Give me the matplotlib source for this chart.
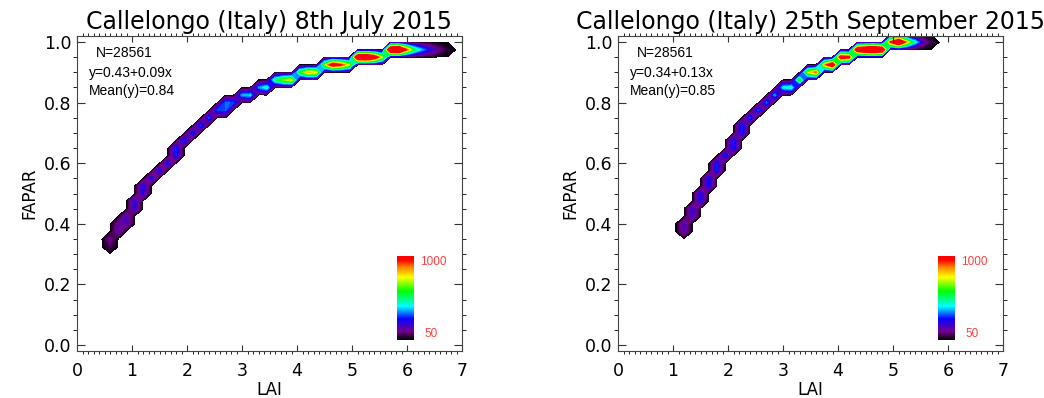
import numpy as np
import matplotlib
matplotlib.use("Agg")
import matplotlib.pyplot as plt
from matplotlib.colors import LinearSegmentedColormap, Normalize
from matplotlib.cm import ScalarMappable

plt.rcParams['font.family'] = ['DejaVu Sans']

# 2D histogram cells: LAI, FAPAR, count
jul_lai = [0.55, 0.60, 0.75, 0.75, 0.90, 0.90, 1.05, 1.05, 1.20, 1.20, 1.35, 1.50, 1.65,
           1.80, 1.80, 1.95, 2.10, 2.25, 2.40, 2.55, 2.70, 2.70, 2.85, 3.00, 3.15,
           3.30, 3.45, 3.60, 3.75, 3.90, 4.05, 4.20, 4.35, 4.50, 4.65, 4.80, 4.95,
           5.10, 5.25, 5.40, 5.55, 5.70, 5.85, 6.00, 6.15, 6.30, 6.45, 6.60, 6.75]
jul_fapar = [0.325, 0.35, 0.375, 0.40, 0.40, 0.425, 0.45, 0.475, 0.50, 0.525, 0.55, 0.575, 0.60,
             0.625, 0.65, 0.675, 0.70, 0.725, 0.75, 0.775, 0.775, 0.80, 0.80, 0.825, 0.825,
             0.85, 0.85, 0.875, 0.875, 0.875, 0.90, 0.90, 0.90, 0.925, 0.925, 0.925, 0.925,
             0.95, 0.95, 0.95, 0.95, 0.975, 0.975, 0.975, 0.975, 0.975, 0.975, 0.975, 0.975]
jul_count = [60, 110, 140, 120, 150, 170, 190, 210, 210, 230, 230, 240, 250,
             250, 260, 270, 260, 280, 290, 280, 300, 320, 280, 350, 380,
             320, 450, 480, 650, 760, 560, 820, 760, 650, 1100, 950, 700,
             1300, 1400, 1150, 700, 1400, 1500, 900, 500, 320, 190, 90, 30]

sep_lai = [1.15, 1.20, 1.30, 1.35, 1.45, 1.50, 1.60, 1.65, 1.75, 1.80, 1.95, 2.10, 2.10,
           2.25, 2.25, 2.40, 2.55, 2.70, 2.85, 3.00, 3.15, 3.30, 3.45, 3.60, 3.75,
           3.90, 4.05, 4.20, 4.35, 4.50, 4.65, 4.80, 4.95, 5.10, 5.25, 5.40, 5.55, 5.70]
sep_fapar = [0.375, 0.40, 0.425, 0.45, 0.475, 0.50, 0.525, 0.55, 0.575, 0.60, 0.625, 0.65, 0.675,
             0.70, 0.725, 0.75, 0.775, 0.80, 0.825, 0.85, 0.85, 0.875, 0.90, 0.90, 0.925,
             0.925, 0.95, 0.95, 0.975, 0.975, 0.975, 0.975, 1.00, 1.00, 1.00, 1.00, 1.00, 1.00]
sep_count = [150, 170, 180, 200, 220, 230, 240, 250, 250, 260, 260, 260, 250,
             260, 260, 280, 290, 310, 340, 400, 450, 600, 700, 900, 800,
             1200, 1100, 1000, 1200, 1400, 1500, 1300, 900, 1400, 800, 420, 150, 40]

titles = ["Callelongo (Italy) 8th July 2015", "Callelongo (Italy) 25th September 2015"]
n_pixels = [28561, 28561]
fit_text = ["y=0.43+0.09x", "y=0.34+0.13x"]
mean_y = [0.84, 0.85]

cmap = LinearSegmentedColormap.from_list("idl39", [
    (0.00, (0.0, 0.0, 0.0)),
    (0.10, (0.45, 0.0, 0.55)),
    (0.25, (0.05, 0.0, 1.0)),
    (0.40, (0.0, 1.0, 1.0)),
    (0.58, (0.0, 1.0, 0.0)),
    (0.75, (1.0, 1.0, 0.0)),
    (0.87, (1.0, 0.5, 0.0)),
    (0.95, (1.0, 0.0, 0.0)),
    (1.00, (1.0, 0.0, 0.0))])
norm = Normalize(0, 1000)

dx, dy = 0.15, 0.025
lai_grid = np.arange(0, 7.2, dx)
fapar_grid = np.arange(0, 1.06, dy)


def hist_grid(lai, fapar, count):
    z = np.zeros((len(fapar_grid), len(lai_grid)))
    i = np.round(np.array(fapar) / dy).astype(int)
    j = np.round(np.array(lai) / dx).astype(int)
    np.add.at(z, (i, j), count)
    return z


fig = plt.figure(figsize=(10.44, 3.98), dpi=100)
lefts = [77 / 1044, 618 / 1044]
w, h = 385 / 1044, 315 / 398
data = [(jul_lai, jul_fapar, jul_count), (sep_lai, sep_fapar, sep_count)]
levels = np.concatenate([[3], np.linspace(25, 1000, 40)])
small = ['Liberation Sans', 'DejaVu Sans']

for k in range(2):
    ax = fig.add_axes([lefts[k], 47 / 398, w, h])
    z = hist_grid(*data[k])
    ax.contourf(lai_grid, fapar_grid, z, levels=levels, cmap=cmap, norm=norm, extend='max')
    ax.set_xlim(0, 7)
    ax.set_ylim(-0.02, 1.02)
    ax.set_xticks(np.arange(0, 8, 1))
    ax.set_xticks(np.arange(0, 7.01, 0.1), minor=True)
    ax.set_yticks(np.arange(0, 1.01, 0.2))
    ax.set_yticks(np.arange(0, 1.01, 0.05), minor=True)
    ax.yaxis.set_major_formatter(matplotlib.ticker.FormatStrFormatter('%.1f'))
    ax.tick_params(direction='in', top=True, right=True, labelsize=12.5, width=0.8, color='#333333')
    ax.tick_params(axis='x', which='major', length=4, pad=8)
    ax.tick_params(axis='x', which='minor', length=2.2, top=True, width=0.6)
    ax.tick_params(axis='y', which='major', length=6, pad=4)
    ax.tick_params(axis='y', which='minor', length=3, right=True, width=0.6)
    for s in ax.spines.values():
        s.set_color('#444444')
    ax.set_xlabel("LAI", fontsize=12, labelpad=0.5)
    ax.set_ylabel("FAPAR", fontsize=12, labelpad=4)
    ax.set_title(titles[k], fontsize=17, pad=5)

    ax.text(0.05, 0.946, "N=%d" % n_pixels[k], transform=ax.transAxes, fontsize=10,
            va='center', family=small)
    ax.text(0.03, 0.883, fit_text[k], transform=ax.transAxes, fontsize=10,
            va='center', family=small)
    ax.text(0.03, 0.825, "Mean(y)=%.2f" % mean_y[k], transform=ax.transAxes, fontsize=10,
            va='center', family=small)

    cax = ax.inset_axes([0.832, 0.035, 0.044, 0.267])
    cb = fig.colorbar(ScalarMappable(norm=norm, cmap=cmap), cax=cax)
    cb.set_ticks([])
    cb.outline.set_visible(False)
    cax.text(1.35, 0.93, "1000", transform=cax.transAxes, color='#ff4040', fontsize=8.5,
             va='center', family=small)
    cax.text(1.6, 0.07, "50", transform=cax.transAxes, color='#ff4040', fontsize=8.5,
             va='center', family=small)

fig.savefig("out.png", dpi=100)
